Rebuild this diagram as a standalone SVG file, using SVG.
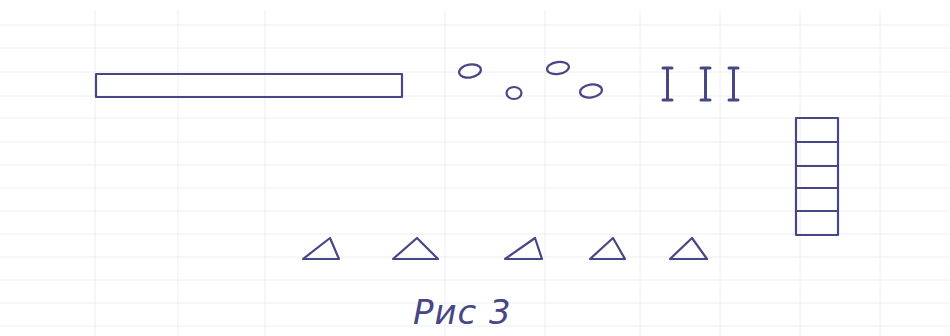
<svg xmlns="http://www.w3.org/2000/svg" width="950" height="336" viewBox="0 0 950 336">
<style>
.grid{stroke:#eeeef1;stroke-width:1;fill:none}
.ink{stroke:#474785;stroke-width:2.2;fill:none;stroke-linejoin:round;stroke-linecap:round}
.stick{stroke-width:3}
.label{font-family:"DejaVu Sans",sans-serif;font-style:italic;font-size:34px;letter-spacing:1px;fill:#474785}
</style>
<rect width="950" height="336" fill="#ffffff"/>
<g id="grid" class="grid">
<path d="M0 25H950M0 48H950M0 72H950M0 96H950M0 118H950M0 142H950M0 165H950M0 188H950M0 211H950M0 234H950M0 257H950M0 280H950M0 303H950M0 326H950"/>
<path d="M95 10V336M178 10V336M265 10V336M445 10V336M545 10V336M640 10V336M720 10V336M800 10V336M880 10V336"/>
</g>
<g id="bar"><rect class="ink" x="96" y="74" width="306" height="23"/></g>
<g id="circles" class="ink">
<ellipse cx="470" cy="71" rx="11" ry="6.5" transform="rotate(-10 470 71)"/>
<ellipse cx="514" cy="93" rx="7.5" ry="6"/>
<ellipse cx="558" cy="68" rx="11" ry="6" transform="rotate(-8 558 68)"/>
<ellipse cx="591" cy="91" rx="11" ry="6.5" transform="rotate(-8 591 91)"/>
</g>
<g id="sticks" class="ink stick">
<path d="M663 68H672M667.5 68V100M663 100H672"/>
<path d="M701 68H710M705.5 68V100M701 100H710"/>
<path d="M729 68H738M733.5 68V100M729 100H738"/>
</g>
<g id="ladder" class="ink">
<rect x="796" y="118" width="42" height="117"/>
<path d="M796 142H838M796 166H838M796 188H838M796 211H838"/>
</g>
<g id="triangles" class="ink">
<path d="M303 259L330 238L339 259Z"/>
<path d="M393 259L417 238L438 259Z"/>
<path d="M505 259L535 238L542 259Z"/>
<path d="M590 259L613 238L625 259Z"/>
<path d="M670 259L692 238L707 259Z"/>
</g>
<text class="label" x="413" y="324">Рис 3</text>
</svg>
